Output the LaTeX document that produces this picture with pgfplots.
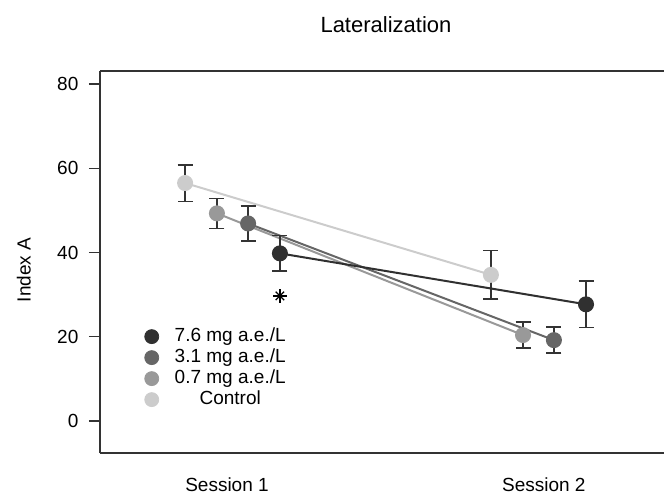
\documentclass[border=0pt]{standalone}
\usepackage{fontspec}
\setmainfont{Liberation Sans}
\usepackage{pgfplots}
\pgfplotsset{compat=1.18}
\definecolor{c76}{HTML}{303030}
\definecolor{c31}{HTML}{666666}
\definecolor{c07}{HTML}{999999}
\definecolor{cctl}{HTML}{CCCCCC}
\definecolor{ebar}{HTML}{333333}

\pgfplotsset{
  grp/.style={line width=1pt, color=#1, mark=*, mark size=3.5pt,
    mark options={fill=#1, draw=#1},
    /pgfplots/error bars/y dir=both, /pgfplots/error bars/y explicit,
    /pgfplots/error bars/error bar style={color=ebar, line width=0.8pt},
    /pgfplots/error bars/error mark options={rotate=90, mark size=3.75pt, line width=0.8pt, color=ebar}},
  legdot/.style={only marks, mark=*, mark size=3.5pt, mark options={fill=#1, draw=#1}},
}

\begin{document}
\begin{tikzpicture}
\begin{axis}[
  scale only axis, width=282pt, height=191pt,
  at={(0,0)}, anchor=south west,
  font=\fontsize{9.5}{11}\selectfont,
  xmin=0.5667, xmax=2.411, ymin=-7.6, ymax=83.1,
  axis x line=box, axis y line=left,
  axis line style={-, black!80, line width=0.6pt},
  every outer x axis line/.append style={-},
  every outer y axis line/.append style={-},
  tick align=outside, major tick length=5.5pt,
  tick style={black!80, line width=0.6pt},
  ytick={0,20,40,60,80},
  yticklabel style={xshift=-1.8pt},
  xtick={0.982,2.018}, xticklabels={Session 1, Session 2},
  x tick style={draw=none},
  xticklabel style={yshift=-3.3pt},
  /pgf/number format/assume math mode=true,
  title=Lateralization,
  title style={at={(axis description cs:0.507,1.09)}, anchor=center,
    font=\fontsize{11}{13}\selectfont},
  ylabel=Index A,
  every axis y label/.style={at={(axis description cs:-0.135,0.479)}, rotate=90, anchor=center},
  legend cell align=center,
  legend style={draw=none, fill=none, at={(axis description cs:0.068,0.345)}, anchor=north west,
    row sep=-0.5pt, nodes={inner sep=1pt, text height=7pt, text depth=2pt},
    /tikz/every odd column/.append style={column sep=7pt}},
  legend image code/.code={\draw[#1] plot coordinates {(0pt,0pt)};},
]
% control
\addplot[forget plot, grp=cctl] coordinates {(0.845,56.5) +- (0,4.35) (1.845,34.7) +- (0,5.75)};
% 0.7 mg
\addplot[forget plot, grp=c07] coordinates {(0.949,49.3) +- (0,3.55) (1.950,20.4) +- (0,3.05)};
% 3.1 mg
\addplot[forget plot, grp=c31] coordinates {(1.051,46.9) +- (0,4.15) (2.051,19.2) +- (0,3.05)};
% 7.6 mg
\addplot[forget plot, grp=c76] coordinates {(1.155,39.8) +- (0,4.2) (2.156,27.7) +- (0,5.5)};
% significance asterisk
\addplot[only marks, mark=+, mark size=3.3pt, line width=0.6pt, black, forget plot] coordinates {(1.155,29.7)};
\addplot[only marks, mark=x, mark size=3.0pt, line width=0.6pt, black, forget plot] coordinates {(1.155,29.7)};
\addlegendimage{legdot=c76}\addlegendentry{7.6 mg a.e./L}
\addlegendimage{legdot=c31}\addlegendentry{3.1 mg a.e./L}
\addlegendimage{legdot=c07}\addlegendentry{0.7 mg a.e./L}
\addlegendimage{legdot=cctl}\addlegendentry{Control}
\end{axis}
\pgfresetboundingbox
\path[use as bounding box] (-50pt,-20.5pt) rectangle (282pt,226.5pt);
\end{tikzpicture}
\end{document}
